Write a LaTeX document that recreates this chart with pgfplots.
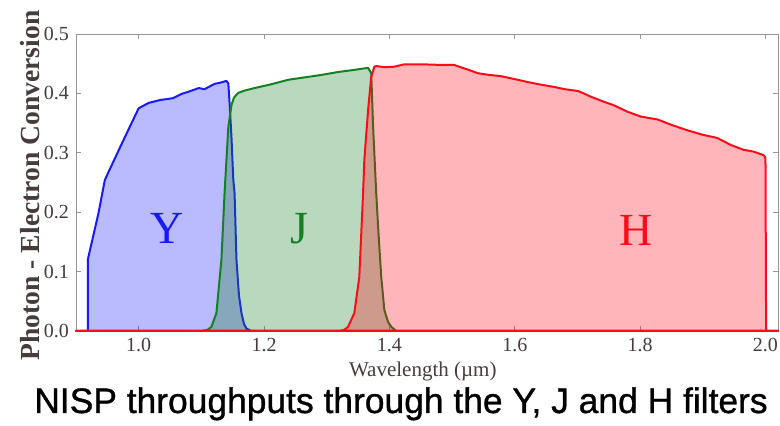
\documentclass[border=0pt]{standalone}
\usepackage{fontspec}
\setmainfont{Liberation Serif}
\newfontfamily\capfont[FakeBold=1.0]{Liberation Sans}
\usepackage{pgfplots}
\pgfplotsset{compat=1.18}
\definecolor{yblue}{RGB}{25,25,255}
\definecolor{jgreen}{RGB}{20,128,35}
\definecolor{hred}{RGB}{255,10,25}
\definecolor{framegray}{RGB}{150,150,150}
\definecolor{labgray}{RGB}{70,60,60}
\begin{document}
\begin{tikzpicture}
\path[use as bounding box] (-38pt,-47.5pt) rectangle (352pt,165.5pt);
\begin{axis}[
  scale only axis, width=351pt, height=148.5pt,
  xmin=0.9, xmax=2.02, ymin=0, ymax=0.5,
  clip=false,
  axis line style={framegray},
  tick style={framegray, thin},
  major tick length=2.5pt,
  tick align=inside,
  xtick={1.0,1.2,1.4,1.6,1.8,2.0},
  ytick={0,0.1,0.2,0.3,0.4,0.5},
  /pgf/number format/assume math mode=true,
  xticklabel style={/pgf/number format/.cd, fixed, fixed zerofill, precision=1},
  yticklabel style={/pgf/number format/.cd, fixed, fixed zerofill, precision=1},
  ticklabel style={font=\fontsize{10}{12}\selectfont, text=labgray},
  xlabel={Wavelength (µm)},
  xlabel style={font=\fontsize{10.5}{12}\selectfont, text=labgray, at={(axis description cs:0.494,-0.135)}, anchor=center},
  ylabel={Photon - Electron Conversion},
  ylabel style={font=\fontsize{13.8}{16}\selectfont\bfseries, text=labgray, at={(axis description cs:-0.066,0.49)}, anchor=center},
]
% Y filter
\addplot[draw=yblue, line width=1pt, fill=yblue, fill opacity=0.3, draw opacity=1, line join=round] coordinates {
(0.90,0) (0.919,0) (0.919,0.121) (0.936,0.199) (0.946,0.254) (0.952,0.268) (0.976,0.322) (1.0,0.375)
(1.016,0.384) (1.035,0.389) (1.049,0.391) (1.055,0.392) (1.068,0.399) (1.080,0.403) (1.096,0.409)
(1.105,0.407) (1.121,0.416) (1.130,0.418) (1.140,0.421) (1.143,0.417) (1.145,0.384) (1.148,0.327)
(1.151,0.254) (1.153,0.232) (1.156,0.12) (1.160,0.06) (1.164,0.03) (1.168,0.012) (1.172,0.004)
(1.18,0) (2.02,0)
} \closedcycle;
% J filter
\addplot[draw=jgreen, line width=1pt, fill=jgreen, fill opacity=0.3, draw opacity=1, line join=round] coordinates {
(0.9,0) (1.10,0) (1.110,0.002) (1.116,0.007) (1.124,0.03) (1.132,0.12) (1.137,0.232) (1.143,0.343)
(1.148,0.380) (1.152,0.393) (1.159,0.401) (1.170,0.405) (1.185,0.409) (1.21,0.415) (1.239,0.423)
(1.265,0.427) (1.291,0.431) (1.318,0.436) (1.340,0.439) (1.366,0.443) (1.371,0.434) (1.374,0.344)
(1.379,0.232) (1.382,0.175) (1.387,0.091) (1.392,0.035) (1.398,0.015) (1.403,0.007) (1.411,0) (2.02,0)
} \closedcycle;
% H filter
\addplot[draw=hred, line width=1pt, fill=hred, fill opacity=0.3, draw opacity=1, line join=round] coordinates {
(0.9,0) (1.32,0) (1.328,0.002) (1.334,0.007) (1.344,0.03) (1.352,0.091) (1.358,0.232) (1.360,0.288)
(1.366,0.372) (1.371,0.428) (1.376,0.445) (1.379,0.446) (1.393,0.444) (1.408,0.445) (1.424,0.449)
(1.451,0.449) (1.480,0.448) (1.503,0.448) (1.514,0.444) (1.528,0.439) (1.541,0.434) (1.560,0.431)
(1.578,0.429) (1.600,0.424) (1.621,0.419) (1.640,0.415) (1.662,0.411) (1.680,0.407) (1.701,0.404)
(1.710,0.400) (1.720,0.395) (1.742,0.386) (1.758,0.380) (1.780,0.369) (1.801,0.361) (1.828,0.356)
(1.850,0.347) (1.875,0.338) (1.901,0.330) (1.923,0.325) (1.945,0.313) (1.965,0.305) (1.981,0.302)
(1.997,0.296) (2.000,0.292) (2.001,0) (2.02,0)
} \closedcycle;
\node[text=yblue, font=\fontsize{23}{24}\selectfont] at (axis cs:1.045,0.173) {Y};
\node[text=jgreen, font=\fontsize{23}{24}\selectfont] at (axis cs:1.256,0.173) {J};
\node[text=hred, font=\fontsize{23}{24}\selectfont] at (axis cs:1.794,0.17) {H};
\end{axis}
\node[anchor=base, inner sep=0pt] at (162.5pt,-41pt) {\capfont\fontsize{17.7}{19}\selectfont NISP throughputs through the Y, J and H filters};
\end{tikzpicture}
\end{document}
